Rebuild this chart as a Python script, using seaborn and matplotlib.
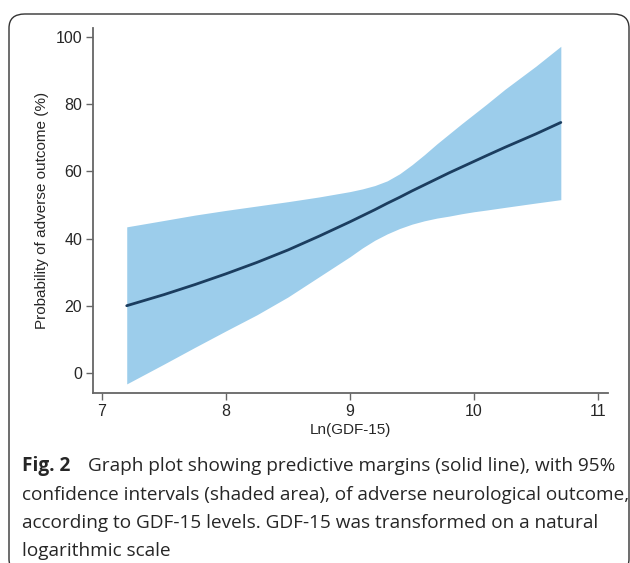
import matplotlib
matplotlib.use("Agg")
import matplotlib.pyplot as plt
import seaborn as sns
import pandas as pd
from matplotlib.patches import FancyBboxPatch

# Valores
ln_gdf15 = [7.2, 7.5, 7.75, 8.0, 8.25, 8.5, 8.75, 9.0, 9.1, 9.2, 9.3, 9.4, 9.5,
            9.6, 9.7, 9.8, 9.9, 10.0, 10.1, 10.25, 10.5, 10.7]
margen = [20.0, 23.3, 26.3, 29.5, 32.9, 36.6, 40.7, 45.0, 46.8, 48.6, 50.5, 52.3, 54.2,
          56.0, 57.8, 59.6, 61.3, 63.0, 64.7, 67.2, 71.2, 74.6]
ic_sup = [43.5, 45.4, 47.0, 48.4, 49.7, 51.0, 52.4, 54.0, 54.8, 55.8, 57.2, 59.3, 62.0,
          65.0, 68.2, 71.2, 74.2, 77.1, 80.0, 84.5, 91.4, 97.3]
ic_inf = [-3.3, 2.6, 7.6, 12.5, 17.3, 22.6, 28.6, 34.6, 37.2, 39.5, 41.4, 43.0, 44.3,
          45.3, 46.1, 46.7, 47.4, 48.0, 48.5, 49.3, 50.6, 51.6]

xticks = [7, 8, 9, 10, 11]
yticks = [0, 20, 40, 60, 80, 100]

df = pd.DataFrame({'x': ln_gdf15, 'y': margen})

sns.set_style('white')
plt.rcParams['font.family'] = ['Liberation Sans', 'DejaVu Sans']

fig = plt.figure(figsize=(6.3, 5.63), dpi=100)
ax = fig.add_axes([0.148, 0.302, 0.817, 0.648])

ax.fill_between(ln_gdf15, ic_inf, ic_sup, color='#9ccdeb', linewidth=0)
sns.lineplot(data=df, x='x', y='y', ax=ax, color='#1b3d5f', linewidth=2)

ax.set_xlim(6.93, 11.08)
ax.set_ylim(-6, 102.7)
ax.set_xticks(xticks)
ax.set_yticks(yticks)
ax.set_xlabel('Ln(GDF-15)', fontsize=11, labelpad=3)
ax.set_ylabel('Probability of adverse outcome (%)', fontsize=11, labelpad=5)
ax.tick_params(axis='both', labelsize=11.5, length=5, width=1, color='#666666',
               direction='out', left=True, bottom=True, pad=3)
for lado in ['top', 'right']:
    ax.spines[lado].set_visible(False)
for lado in ['left', 'bottom']:
    ax.spines[lado].set_color('#666666')
    ax.spines[lado].set_linewidth(1.3)

# Marco redondeado de la figura
W, H = 630, 563
marco = FancyBboxPatch((9 / W, -10 / H), 620 / W, (H - 14 + 10) / H,
                       boxstyle='round,pad=0,rounding_size=0.025',
                       transform=fig.transFigure, fill=False,
                       edgecolor='#333333', linewidth=1.0)
fig.add_artist(marco)

# Leyenda de la figura
fc = ['Open Sans', 'DejaVu Sans']
fs = 13.7
fig.text(22 / W, 1 - 466 / H, 'Fig. 2', fontsize=fs, fontweight='bold',
         family=fc, va='center', ha='left')
fig.text(88 / W, 1 - 466 / H,
         'Graph plot showing predictive margins (solid line), with 95%',
         fontsize=fs, family=fc, va='center', ha='left')
lineas = ['confidence intervals (shaded area), of adverse neurological outcome,',
          'according to GDF-15 levels. GDF-15 was transformed on a natural',
          'logarithmic scale']
for i, t in enumerate(lineas):
    fig.text(22 / W, 1 - (495 + 28 * i) / H, t, fontsize=fs, family=fc,
             va='center', ha='left')

fig.savefig('out.png', dpi=100)
